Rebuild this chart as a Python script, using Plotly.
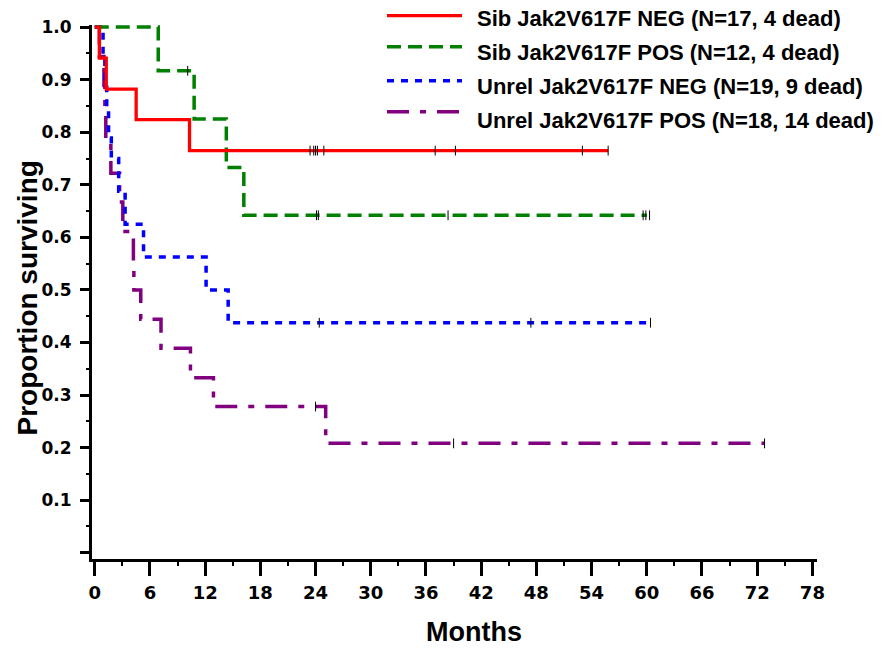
import numpy as np
import plotly.graph_objects as go

# ---------------- data ----------------
series_names = [
    "Sib Jak2V617F NEG (N=17, 4 dead)",
    "Sib Jak2V617F POS (N=12, 4 dead)",
    "Unrel Jak2V617F NEG (N=19, 9 dead)",
    "Unrel Jak2V617F POS (N=18, 14 dead)",
]

sib_neg_times = [0, 0.5, 1.25, 4.5, 10.3]
sib_neg_surv = [1.0, 0.941, 0.882, 0.824, 0.765]
sib_neg_end = 55.8
sib_neg_censor = [23.4, 23.8, 24.0, 24.2, 24.9, 37.0, 39.2, 53.0, 55.8]

sib_pos_times = [0, 6.9, 10.8, 14.3, 16.2]
sib_pos_surv = [1.0, 0.917, 0.825, 0.733, 0.642]
sib_pos_end = 60.0
sib_pos_censor = [10.1, 24.1, 24.3, 38.4, 59.6, 59.9, 60.3]

unrel_neg_times = [0, 0.9, 1.1, 1.3, 1.5, 1.8, 2.6, 3.3, 5.3, 12.1, 14.5]
unrel_neg_surv = [1.0, 0.947, 0.895, 0.842, 0.789, 0.75, 0.6875, 0.625, 0.5625, 0.5, 0.4375]
unrel_neg_end = 60.4
unrel_neg_censor = [24.4, 47.4, 60.4]

unrel_pos_times = [0, 0.5, 1.0, 1.1, 1.2, 1.75, 2.7, 3.05, 4.2, 4.25, 5.0, 7.2, 10.4, 12.9, 25.1]
unrel_pos_surv = [1.0, 0.944, 0.889, 0.833, 0.778, 0.722, 0.667, 0.611, 0.556, 0.5, 0.444,
                  0.389, 0.333, 0.278, 0.208]
unrel_pos_end = 72.8
unrel_pos_censor = [24.0, 39.0, 72.8]

x_tick_vals = [0, 6, 12, 18, 24, 30, 36, 42, 48, 54, 60, 66, 72, 78]
y_tick_vals = [0, 0.1, 0.2, 0.3, 0.4, 0.5, 0.6, 0.7, 0.8, 0.9, 1.0]
y_tick_text = ["", "0.1", "0.2", "0.3", "0.4", "0.5", "0.6", "0.7", "0.8", "0.9", "1.0"]

# ---------------- styling ----------------
colors = ["#FF0000", "#008000", "#0000FF", "#800080"]
dashes = ["solid", "14px,7px", "7px,7px", "22px,11px,6px,11px"]
widths = [3.3, 3.5, 3.5, 3.5]

W, H = 883, 648
L, R, T, B = 92, 66, 25, 89
PW, PH = W - L - R, H - T - B


def px(xp):
    return (xp - L) / PW


def py(yp):
    return (H - B - yp) / PH


groups = [
    (sib_neg_times, sib_neg_surv, sib_neg_end, sib_neg_censor),
    (sib_pos_times, sib_pos_surv, sib_pos_end, sib_pos_censor),
    (unrel_neg_times, unrel_neg_surv, unrel_neg_end, unrel_neg_censor),
    (unrel_pos_times, unrel_pos_surv, unrel_pos_end, unrel_pos_censor),
]

fig = go.Figure()
for i in [3, 2, 1, 0]:
    t, s, end, cens = groups[i]
    xs = list(t) + [end]
    ys = list(s) + [s[-1]]
    fig.add_trace(go.Scatter(
        x=xs, y=ys, mode="lines", line_shape="hv",
        line=dict(color=colors[i], width=widths[i], dash=dashes[i]),
        name=series_names[i], showlegend=False, hoverinfo="skip",
    ))
    idx = np.searchsorted(np.array(t), np.array(cens), side="right") - 1
    cy = [s[k] for k in idx]
    fig.add_trace(go.Scatter(
        x=cens, y=cy, mode="markers",
        marker=dict(symbol="line-ns", size=7, color="black",
                    line=dict(color="black", width=1)),
        showlegend=False, hoverinfo="skip",
    ))

# manual legend
leg_line_y = [15.7, 46.7, 80.7, 111.7]
leg_text_y = [18.5, 52.0, 86.5, 120.0]
for i in range(4):
    fig.add_shape(type="line", xref="paper", yref="paper",
                  x0=px(387), x1=px(462), y0=py(leg_line_y[i]), y1=py(leg_line_y[i]),
                  line=dict(color=colors[i], width=widths[i], dash=dashes[i]))
    fig.add_annotation(xref="paper", yref="paper", x=px(475), y=py(leg_text_y[i]),
                       xanchor="left", yanchor="middle", showarrow=False,
                       text=series_names[i],
                       font=dict(family="Liberation Sans, Arial", size=22, color="black",
                                 weight="bold"))

# axis titles
fig.add_annotation(xref="paper", yref="paper", x=px(474), y=py(632),
                   xanchor="center", yanchor="middle", showarrow=False,
                   text="Months",
                   font=dict(family="Liberation Sans, Arial", size=27, color="black",
                             weight="bold"))
fig.add_annotation(xref="paper", yref="paper", x=px(26.5), y=py(298),
                   xanchor="center", yanchor="middle", showarrow=False, textangle=-90,
                   text="Proportion surviving",
                   font=dict(family="Liberation Sans, Arial", size=28, color="black",
                             weight="bold"))

ytickfont = dict(family="DejaVu Sans", size=17, color="black", weight="bold")
xtickfont = dict(family="DejaVu Sans", size=18, color="black", weight="bold")

fig.update_layout(
    width=W, height=H,
    margin=dict(l=L, r=R, t=T, b=B),
    plot_bgcolor="white", paper_bgcolor="white",
    showlegend=False,
    xaxis=dict(
        range=[-0.3, 78.5], tickvals=x_tick_vals, ticks="outside", ticklen=14,
        tickwidth=3, tickcolor="black", showline=True, linewidth=3, linecolor="black",
        showgrid=False, zeroline=False, tickfont=xtickfont, ticklabelstandoff=1,
        minor=dict(dtick=3, tick0=0, ticks="outside", ticklen=4, tickwidth=2,
                   tickcolor="black", showgrid=False),
    ),
    yaxis=dict(
        range=[-0.012, 1.004], tickvals=y_tick_vals, ticktext=y_tick_text,
        ticks="outside", ticklen=9, tickwidth=3, tickcolor="black",
        showline=True, linewidth=3, linecolor="black",
        showgrid=False, zeroline=False, tickfont=ytickfont, ticklabelstandoff=5,
        minor=dict(dtick=0.05, tick0=0, ticks="outside", ticklen=3, tickwidth=2,
                   tickcolor="black", showgrid=False),
    ),
)

fig.write_html("out.html", config={"displayModeBar": False},
               post_script="document.body.style.margin='0';")
